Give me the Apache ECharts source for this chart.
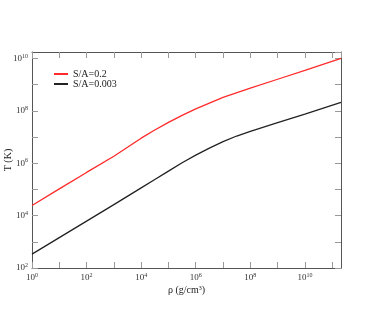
<!DOCTYPE html>
<html>
<head>
<meta charset="utf-8">
<script src="https://cdn.jsdelivr.net/npm/echarts@6/dist/echarts.min.js"></script>
<style>
html,body{margin:0;padding:0;background:#fff;}
#chart{width:381px;height:310px;}
</style>
</head>
<body>
<div id="chart"></div>
<script>
// density rho (g/cm^3) and temperature T (K)
var rhoRed = [1, 10, 100, 1e3, 3.16e3, 1e4, 3.16e4, 1e5, 3.16e5, 1e6, 3.16e6, 1e7, 1e8, 1e9, 1e10, 2.1e11];
var tRed   = [2.45e4, 1.05e5, 4.47e5, 1.86e6, 4.07e6, 9.1e6, 1.86e7, 3.63e7, 6.76e7, 1.20e8, 2.0e8, 3.31e8, 7.41e8, 1.62e9, 3.55e9, 1.02e10];
var rhoBlack = [1, 10, 100, 1e3, 1e4, 3.16e4, 1e5, 3.16e5, 1e6, 3.16e6, 1e7, 3.16e7, 1e8, 1e9, 1e10, 2.1e11];
var tBlack   = [339, 1445, 6166, 2.63e4, 1.15e5, 2.4e5, 5.0e5, 1.05e6, 2.04e6, 3.8e6, 6.76e6, 1.1e7, 1.66e7, 3.55e7, 7.59e7, 2.14e8];
var seriesNames = ['S/A=0.2', 'S/A=0.003'];
var xRange = [1, 2.1e11];
var yRange = [100, 1.78e10];

function zip(a, b) { return a.map(function (v, i) { return [v, b[i]]; }); }

var FONT = 'Liberation Serif';
function expLabel(v) {
  var l = Math.log10(v), e = Math.round(l);
  if (Math.abs(l - e) > 1e-6 || e % 2 !== 0) return '';
  return '{b|10}{s|' + e + '}';
}
var rich = {
  b: {fontFamily: FONT, fontSize: 9, color: '#333'},
  s: {fontFamily: FONT, fontSize: 6, color: '#333', verticalAlign: 'top', padding: [0, 0, 5, 0]}
};
var lineCol = '#555';
var tickCol = '#999';
function mkAxis(pos, range, show, extra) {
  var ax = {
    type: 'log', logBase: 10, position: pos, min: range[0], max: range[1], interval: 1,
    axisLine: {show: true, lineStyle: {color: lineCol, width: 1}},
    axisTick: {show: true, inside: true, length: 6, interval: 0, lineStyle: {color: tickCol, width: 1}},
    splitLine: {show: false},
    minorTick: {show: false},
    axisLabel: show ? {show: true, interval: 0, formatter: expLabel, rich: rich, margin: 4, showMaxLabel: false} : {show: false}
  };
  for (var k in extra) ax[k] = extra[k];
  return ax;
}

var chart = echarts.init(document.getElementById('chart'));
chart.setOption({
  animation: false,
  backgroundColor: '#fff',
  grid: {left: 32, right: 40, top: 52, bottom: 42, containLabel: false, outerBoundsMode: 'none'},
  legend: {
    orient: 'vertical', left: 49, top: 64, icon: 'rect', itemWidth: 14, itemHeight: 2, itemGap: 0,
    textStyle: {fontFamily: FONT, fontSize: 10, color: '#222', lineHeight: 10, padding: [0, 0, 0, 0]},
    data: seriesNames
  },
  xAxis: [
    mkAxis('bottom', xRange, true, {
      name: 'ρ (g/cm{s|3})', nameLocation: 'middle', nameGap: 17, nameMoveOverlap: false,
      nameTextStyle: {fontFamily: FONT, fontSize: 10, color: '#222', rich: {s: {fontFamily: FONT, fontSize: 6, color: '#222', verticalAlign: 'top', padding: [0, 0, 5, 0]}}}
    }),
    mkAxis('top', xRange, false, {})
  ],
  yAxis: [
    mkAxis('left', yRange, true, {
      name: 'T (K)', nameLocation: 'middle', nameGap: 19, nameMoveOverlap: false,
      nameTextStyle: {fontFamily: FONT, fontSize: 10, color: '#222'}
    }),
    mkAxis('right', yRange, false, {})
  ],
  series: [
    {name: seriesNames[0], type: 'line', xAxisIndex: 0, yAxisIndex: 0, data: zip(rhoRed, tRed), showSymbol: false, symbol: 'none',
     lineStyle: {color: '#ff2a2a', width: 1.3}, itemStyle: {color: '#ff2a2a'}},
    {name: seriesNames[1], type: 'line', xAxisIndex: 0, yAxisIndex: 0, data: zip(rhoBlack, tBlack), showSymbol: false, symbol: 'none',
     lineStyle: {color: '#222', width: 1.3}, itemStyle: {color: '#222'}}
  ]
});
</script>
</body>
</html>
